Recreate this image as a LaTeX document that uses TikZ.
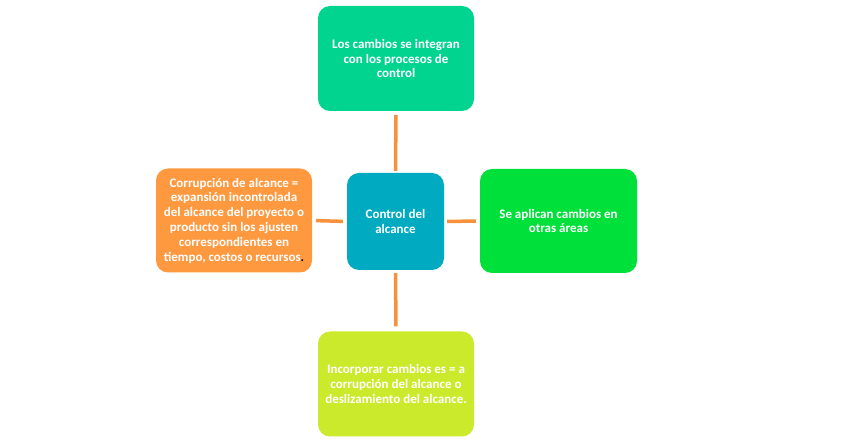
\documentclass[tikz,border=0pt]{standalone}
\usepackage{fontspec}
\setmainfont{Carlito}
\definecolor{cTop}{RGB}{0,212,142}
\definecolor{cMid}{RGB}{0,170,192}
\definecolor{cLeft}{RGB}{255,153,64}
\definecolor{cRight}{RGB}{0,224,58}
\definecolor{cBot}{RGB}{204,234,44}
\definecolor{cLine}{RGB}{247,145,61}
\begin{document}
\begin{tikzpicture}[x=1pt,y=-1pt,
  box/.style={rounded corners=12pt, draw=none, text=white, align=center,
    font=\fontsize{13}{14.8}\selectfont\bfseries, inner sep=0pt},
  conn/.style={draw=cLine, line width=3.5pt}]
\useasboundingbox[fill=white] (0,0) rectangle (860,443);
\node[box, fill=cTop, minimum width=156pt, minimum height=105pt] (top) at (396,58.5)
  {Los cambios se integran\\con los procesos de\\control};
\node[box, fill=cMid, minimum width=97pt, minimum height=97pt] (mid) at (395.5,221.5)
  {Control del\\alcance};
\node[box, fill=cLeft, minimum width=156pt, minimum height=104pt] (left) at (234,220.5)
  {Corrupción de alcance =\\expansión incontrolada\\del alcance del proyecto o\\producto sin los ajusten\\correspondientes en\\tiempo, costos o recursos{\color{black}.}};
\node[box, fill=cRight, minimum width=157pt, minimum height=104pt] (right) at (558.5,221)
  {Se aplican cambios en\\otras áreas};
\node[box, fill=cBot, minimum width=156pt, minimum height=105pt] (bot) at (396,384)
  {Incorporar cambios es = a\\corrupción del alcance o\\deslizamiento del alcance.};
\draw[conn, shorten <=4pt, shorten >=2pt] (top.south) -- (mid.north);
\draw[conn, shorten <=3pt, shorten >=5pt] (mid.south) -- (bot.north);
\draw[conn, shorten <=4pt, shorten >=4pt] (left.east) -- (mid.west);
\draw[conn, shorten <=3pt, shorten >=4pt] (mid.east) -- (right.west);
\end{tikzpicture}
\end{document}
